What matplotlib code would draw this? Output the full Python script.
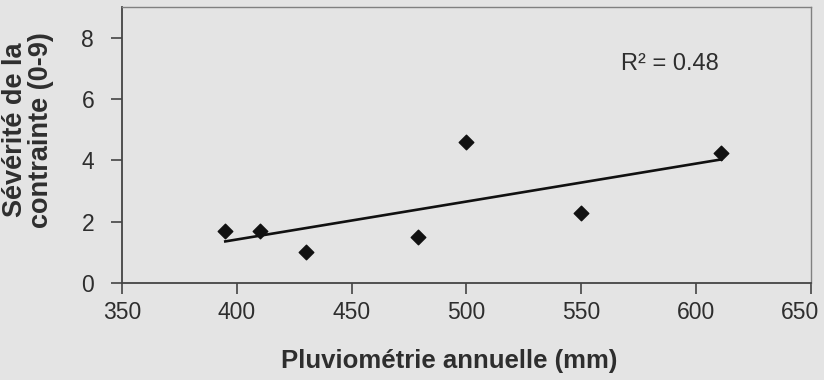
import numpy as np
import matplotlib
matplotlib.use("Agg")
import matplotlib.pyplot as plt
from matplotlib.transforms import ScaledTranslation

# data
pluvio = [395, 410, 430, 479, 500, 550, 611]
severite = [1.7, 1.7, 1.0, 1.5, 4.6, 2.3, 4.25]
x_ticks = [350, 400, 450, 500, 550, 600, 650]
y_ticks = [0, 2, 4, 6, 8]
r2_label = "R² = 0.48"

bg = "#e4e4e4"
txt = "#2e2e2e"

plt.rcParams['font.family'] = ['Liberation Sans', 'DejaVu Sans']

fig = plt.figure(figsize=(8.24, 3.8), dpi=100, facecolor=bg)
ax = fig.add_axes([0.148, 0.255, 0.836, 0.727])
ax.set_facecolor(bg)

# trend line (least squares)
a, b = np.polyfit(pluvio, severite, 1)
xs = np.array([min(pluvio), max(pluvio)])
ax.plot(xs, a * xs + b, color="#111111", lw=1.9, zorder=2)
ax.scatter(pluvio, severite, marker="D", s=55, color="#111111", zorder=3)

ax.text(588.5, 7.15, r2_label, fontsize=17, color=txt, ha="center", va="center")

ax.set_xlim(350, 650)
ax.set_ylim(0, 9)
ax.set_xticks(x_ticks)
ax.set_yticks(y_ticks)
ax.tick_params(axis="both", labelsize=16.5, colors="#444444", labelcolor=txt,
               length=8, width=1.2)
ax.tick_params(axis="x", direction="out", pad=5)
ax.tick_params(axis="y", direction="out", pad=12)

# last x label sits a bit inside the figure
last = ax.get_xticklabels()[-1]
last.set_transform(last.get_transform() + ScaledTranslation(-0.11, 0, fig.dpi_scale_trans))

for side in ["left", "bottom"]:
    ax.spines[side].set_color("#444444")
    ax.spines[side].set_linewidth(1.3)
for side in ["top", "right"]:
    ax.spines[side].set_color("#808080")
    ax.spines[side].set_linewidth(1.0)

ax.set_xlabel("Pluviométrie annuelle (mm)", fontsize=18.5, fontweight="bold",
              color=txt)
ax.xaxis.set_label_coords(0.4746, -0.238)
ax.set_ylabel("Sévérité de la\ncontrainte (0-9)", fontsize=19.5, fontweight="bold",
              color=txt, linespacing=1.0)
ax.yaxis.set_label_coords(-0.0987, 0.554)

fig.savefig("out.png", dpi=100, facecolor=bg)
